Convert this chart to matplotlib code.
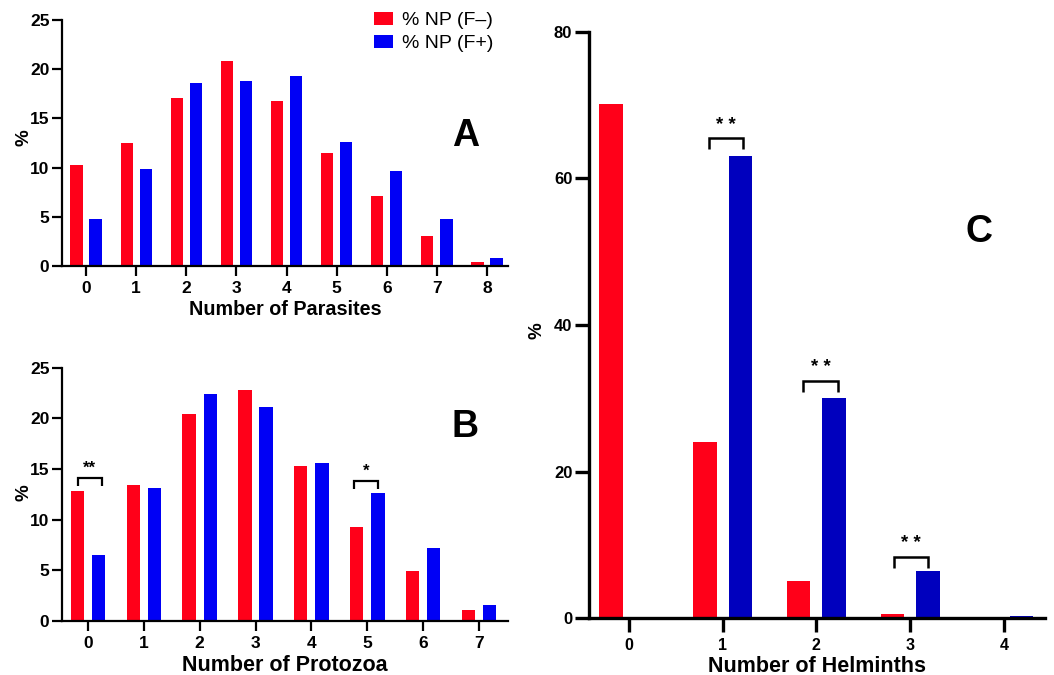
import matplotlib
matplotlib.use("Agg")
import matplotlib.pyplot as plt
import numpy as np

plt.rcParams['font.family'] = ['Liberation Sans', 'DejaVu Sans']

# ---------------- data ----------------
parasite_cats = [0, 1, 2, 3, 4, 5, 6, 7, 8]
parasite_neg = [10.3, 12.5, 17.1, 20.8, 16.8, 11.5, 7.1, 3.0, 0.45]
parasite_pos = [4.8, 9.9, 18.6, 18.85, 19.3, 12.6, 9.7, 4.8, 0.8]

protozoa_cats = [0, 1, 2, 3, 4, 5, 6, 7]
protozoa_neg = [12.8, 13.45, 20.4, 22.75, 15.3, 9.3, 4.9, 1.05]
protozoa_pos = [6.45, 13.1, 22.45, 21.1, 15.55, 12.65, 7.15, 1.55]

helminth_cats = [0, 1, 2, 3, 4]
helminth_neg = [70.2, 24.0, 5.1, 0.6, 0.0]
helminth_pos = [0.0, 63.1, 30.0, 6.5, 0.3]

series_labels = ['% NP (F\u2013)', '% NP (F+)']

# significance annotations: (category, label, bracket top, left, right)
protozoa_sig = [(0, '**', 14.15, -0.185, 0.25), (5, '*', 13.85, -0.24, 0.20)]
helminth_sig = [(1, '* *', 65.5, -0.15, 0.22), (2, '* *', 32.4, -0.14, 0.23), (3, '* *', 8.4, -0.175, 0.19)]

RED = '#FF0019'
BLUE = '#0000F5'
DBLUE = '#0000BE'

W, H = 1054, 675
fig = plt.figure(figsize=(W / 100, H / 100), dpi=100)


def px_axes(left, top, right, bottom):
    return fig.add_axes([left / W, 1 - bottom / H, (right - left) / W, (bottom - top) / H])


def style(ax, fs_x, fs_y, lw=1.6, tlen=7, tw=1.6):
    for s in ['top', 'right']:
        ax.spines[s].set_visible(False)
    for s in ['left', 'bottom']:
        ax.spines[s].set_linewidth(lw)
    ax.tick_params(axis='both', width=tw, length=tlen)
    ax.tick_params(axis='y', pad=2, labelsize=fs_y)
    ax.tick_params(axis='x', pad=4, labelsize=fs_x)
    for lab in ax.get_xticklabels() + ax.get_yticklabels():
        lab.set_fontweight('bold')


def bracket(ax, x0, x1, top, leg, lw=1.6):
    ax.plot([x0, x0, x1, x1], [top - leg, top, top, top - leg], color='black', lw=lw,
            solid_capstyle='butt', solid_joinstyle='miter', clip_on=False)


off, bw = 0.19, 0.245

# ---------------- Panel A ----------------
axA = px_axes(62, 20, 508, 266)
x = np.array(parasite_cats)
bA1 = axA.bar(x - off, parasite_neg, bw, color=RED, label=series_labels[0])
bA2 = axA.bar(x + off, parasite_pos, bw, color=BLUE, label=series_labels[1])
axA.set_xlim(-0.48, 8.42)
axA.set_ylim(0, 25)
axA.set_yticks([0, 5, 10, 15, 20, 25])
axA.set_xticks(parasite_cats)
style(axA, 12.5, 12.5)
axA.set_xlabel('Number of Parasites', fontsize=14.2, fontweight='bold', labelpad=3)
axA.set_ylabel('%', fontsize=13.5, fontweight='bold')
axA.yaxis.set_label_coords(-0.066, 0.52)
axA.text(0.906, 0.53, 'A', transform=axA.transAxes, fontsize=27, fontweight='bold',
         ha='center', va='center')
leg = axA.legend(handles=[bA1, bA2], loc='upper right', bbox_to_anchor=(0.985, 1.065),
                 frameon=False, fontsize=14, handlelength=1.0, handleheight=0.65,
                 handletextpad=0.45, labelspacing=0.3, borderaxespad=0)

# ---------------- Panel B ----------------
axB = px_axes(62, 367.7, 508, 620.7)
x = np.array(protozoa_cats)
axB.bar(x - off, protozoa_neg, 0.24, color=RED)
axB.bar(x + off, protozoa_pos, 0.24, color=BLUE)
axB.set_xlim(-0.465, 7.52)
axB.set_ylim(0, 25)
axB.set_yticks([0, 5, 10, 15, 20, 25])
axB.set_xticks(protozoa_cats)
style(axB, 12.5, 12.5)
axB.set_xlabel('Number of Protozoa', fontsize=15.5, fontweight='bold', labelpad=3)
axB.set_ylabel('%', fontsize=13.5, fontweight='bold')
axB.yaxis.set_label_coords(-0.066, 0.505)
axB.text(0.904, 0.766, 'B', transform=axB.transAxes, fontsize=27, fontweight='bold',
         ha='center', va='center')
for c, lab, top, l, r in protozoa_sig:
    bracket(axB, c + l, c + r, top, 0.85)
    axB.text(c + (l + r) / 2, top + 0.2, lab, ha='center', va='bottom',
             fontsize=12, fontweight='bold')

# ---------------- Panel C ----------------
axC = px_axes(589, 31.7, 1045, 618.3)
x = np.array(helminth_cats)
axC.bar(x - off, helminth_neg, 0.25, color=RED)
axC.bar(x + off, helminth_pos, 0.25, color=DBLUE)
axC.set_xlim(-0.427, 4.44)
axC.set_ylim(0, 80)
axC.set_yticks([0, 20, 40, 60, 80])
axC.set_xticks(helminth_cats)
style(axC, 11.5, 12, lw=2.4, tlen=10, tw=2.4)
axC.set_xlabel('Number of Helminths', fontsize=15.5, fontweight='bold', labelpad=2)
axC.set_ylabel('%', fontsize=13.5, fontweight='bold')
axC.yaxis.set_label_coords(-0.096, 0.49)
axC.text(0.855, 0.659, 'C', transform=axC.transAxes, fontsize=27, fontweight='bold',
         ha='center', va='center')
for c, lab, top, l, r in helminth_sig:
    bracket(axC, c + l, c + r, top, 1.5, lw=1.8)
    axC.text(c + (l + r) / 2, top + 0.6, lab, ha='center', va='bottom',
             fontsize=13.5, fontweight='bold')

fig.savefig('out.png', dpi=100)
